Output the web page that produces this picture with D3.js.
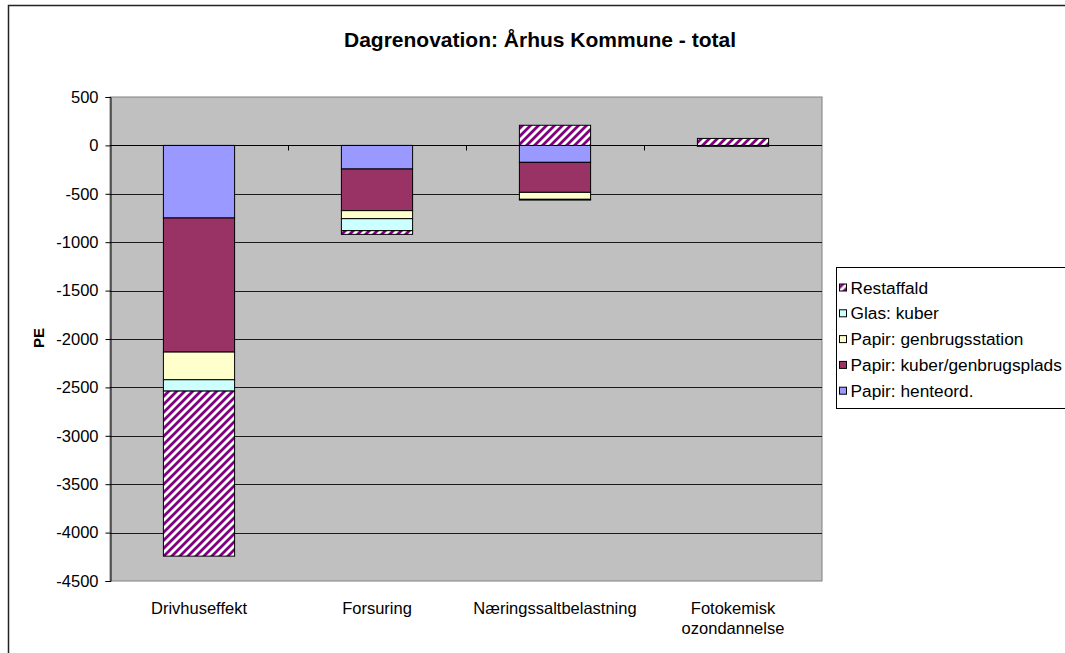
<!DOCTYPE html>
<html>
<head>
<meta charset="utf-8">
<script src="https://cdn.jsdelivr.net/npm/d3@7"></script>
<style>
  body { margin: 0; background: #fff; }
  svg { display: block; font-family: Arial, "Liberation Sans", sans-serif; }
</style>
</head>
<body>
<div id="chart"></div>
<script>
// data
const categories = ["Drivhuseffekt", "Forsuring", "Næringssaltbelastning", "Fotokemisk ozondannelse"];
const seriesNames = ["Papir: henteord.", "Papir: kuber/genbrugsplads", "Papir: genbrugsstation", "Glas: kuber", "Restaffald"];
const papirHenteord = [-750, -244, -175, -2];
const papirKuber = [-1385, -430, -310, -3];
const papirGenbrugsstation = [-286, -83, -72, -1];
const glasKuber = [-117, -124, -8, -1];
const restaffald = [-1705, -38, 208, 72];
const yTicks = [500, 0, -500, -1000, -1500, -2000, -2500, -3000, -3500, -4000, -4500];

const colors = ["#9999FF", "#993366", "#FFFFCC", "#CCFFFF", "url(#hatch)"];

const allSeries = [papirHenteord, papirKuber, papirGenbrugsstation, glasKuber, restaffald];
const rows = categories.map((c, i) => {
    let r = { cat: c };
    seriesNames.forEach((s, j) => { r[s] = allSeries[j][i]; });
    return r;
});

const W = 1065, H = 653;
const plot = { left: 110, right: 822, top: 97, bottom: 581 };

const svg = d3.select("#chart").append("svg")
    .attr("width", W).attr("height", H);

// hatch pattern for Restaffald
const defs = svg.append("defs");
const pat = defs.append("pattern")
    .attr("id", "hatch")
    .attr("patternUnits", "userSpaceOnUse")
    .attr("width", 8).attr("height", 8);
pat.append("rect").attr("width", 8).attr("height", 8).attr("fill", "#fff");
pat.append("path")
    .attr("d", "M-2,2 L2,-2 M0,8 L8,0 M6,10 L10,6")
    .attr("stroke", "#800080")
    .attr("stroke-width", 2.8);

// chart border (left + top)
svg.append("path")
    .attr("d", `M8.5,${H} L8.5,5.5 L${W},5.5`)
    .attr("fill", "none")
    .attr("stroke", "#222")
    .attr("stroke-width", 1.5);

// title
svg.append("text")
    .attr("x", 540).attr("y", 47)
    .attr("text-anchor", "middle")
    .attr("font-size", "21px")
    .attr("font-weight", "bold")
    .text("Dagrenovation: Århus Kommune - total");

let x = d3.scaleBand()
    .domain(categories)
    .range([plot.left, plot.right])
    .paddingInner(0.6)
    .paddingOuter(0.3);

let y = d3.scaleLinear()
    .domain([-4500, 500])
    .range([plot.bottom, plot.top]);

// plot area
svg.append("rect")
    .attr("x", plot.left).attr("y", plot.top)
    .attr("width", plot.right - plot.left)
    .attr("height", plot.bottom - plot.top)
    .attr("fill", "#C0C0C0")
    .attr("stroke", "#808080")
    .attr("stroke-width", 1);

// gridlines
svg.append("g")
    .selectAll("line")
    .data(yTicks.filter(d => d !== 500 && d !== -4500))
    .enter()
    .append("line")
    .attr("x1", plot.left).attr("x2", plot.right)
    .attr("y1", d => Math.round(y(d)) + 0.5)
    .attr("y2", d => Math.round(y(d)) + 0.5)
    .attr("stroke", "#1a1a1a")
    .attr("stroke-width", 1);

// stacked bars
const stack = d3.stack()
    .keys(seriesNames)
    .offset(d3.stackOffsetDiverging);
const stacked = stack(rows);

svg.append("g")
    .selectAll("g")
    .data(stacked)
    .enter()
    .append("g")
    .attr("fill", (d, i) => colors[i])
    .selectAll("rect")
    .data(d => d)
    .enter()
    .append("rect")
    .attr("x", d => x(d.data.cat))
    .attr("y", d => y(d[1]))
    .attr("width", x.bandwidth())
    .attr("height", d => Math.abs(y(d[0]) - y(d[1])))
    .attr("stroke", "#000")
    .attr("stroke-width", 1);

// y axis
const yAxis = svg.append("g")
    .attr("transform", `translate(${plot.left + 0.5},0)`)
    .call(d3.axisLeft(y).tickValues(yTicks).tickSize(5).tickPadding(7).tickFormat(d => String(d)));
yAxis.select(".domain").attr("stroke", "#000");
yAxis.selectAll("text")
    .attr("font-size", "16.5px")
    .attr("font-family", "Arial, 'Liberation Sans', sans-serif")
    .attr("fill", "#000");

// zero line with ticks between categories
const step = x.step();
const boundaries = categories.slice(1).map(c => x(c) - step * x.paddingInner() / 2);
const zeroY = Math.round(y(0)) + 0.5;
svg.append("line")
    .attr("x1", plot.left).attr("x2", plot.right)
    .attr("y1", zeroY).attr("y2", zeroY)
    .attr("stroke", "#000");
svg.append("g")
    .selectAll("line")
    .data(boundaries)
    .enter()
    .append("line")
    .attr("x1", d => Math.round(d) + 0.5).attr("x2", d => Math.round(d) + 0.5)
    .attr("y1", zeroY).attr("y2", zeroY + 5)
    .attr("stroke", "#000");

// category labels
const catLabels = svg.append("g")
    .selectAll("text")
    .data(categories)
    .enter()
    .append("text")
    .attr("x", d => x(d) + x.bandwidth() / 2)
    .attr("y", 614)
    .attr("text-anchor", "middle")
    .attr("font-size", "16.5px");
catLabels.each(function (d) {
    const words = d === "Fotokemisk ozondannelse" ? ["Fotokemisk", "ozondannelse"] : [d];
    words.forEach((w, i) => {
        d3.select(this).append("tspan")
            .attr("x", x(d) + x.bandwidth() / 2)
            .attr("dy", i === 0 ? 0 : 20)
            .text(w);
    });
});

// y axis title
svg.append("text")
    .attr("transform", "translate(43.5,338) rotate(-90)")
    .attr("text-anchor", "middle")
    .attr("font-size", "15px")
    .attr("font-weight", "bold")
    .text("PE");

// legend
const legend = svg.append("g").attr("transform", "translate(836.5,267.5)");
legend.append("rect")
    .attr("width", 240).attr("height", 141)
    .attr("fill", "#fff")
    .attr("stroke", "#000");

const legendOrder = seriesNames.map((s, i) => ({ name: s, color: colors[i] })).reverse();
const items = legend.selectAll("g.item")
    .data(legendOrder)
    .enter()
    .append("g")
    .attr("class", "item")
    .attr("transform", (d, i) => `translate(3,${20 + i * 25.8})`);
items.append("rect")
    .attr("x", 0).attr("y", -3.5)
    .attr("width", 7).attr("height", 7)
    .attr("fill", d => d.color)
    .attr("stroke", "#000");
items.append("text")
    .attr("x", 11).attr("y", 6)
    .attr("font-size", "17.3px")
    .text(d => d.name);
</script>
</body>
</html>
